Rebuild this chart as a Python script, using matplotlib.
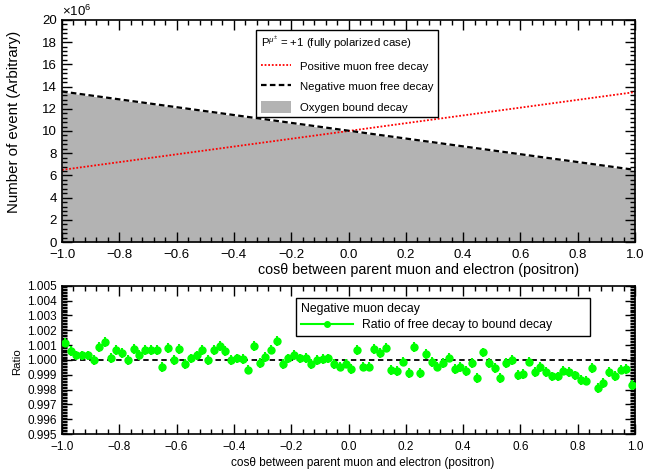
import numpy as np
import matplotlib
matplotlib.use("Agg")
import matplotlib.pyplot as plt
from matplotlib.lines import Line2D
from matplotlib.patches import Patch
from matplotlib.ticker import MultipleLocator, FuncFormatter

plt.rcParams['font.family'] = ['Liberation Sans', 'DejaVu Sans']
plt.rcParams['mathtext.fontset'] = 'custom'
plt.rcParams['mathtext.rm'] = 'Liberation Sans'
plt.rcParams['mathtext.it'] = 'Liberation Sans:italic'

# top panel: straight line spectra, values at cos(theta) = -1 and +1
line_x = [-1.0, 1.0]
pos_free = [6.5e6, 13.5e6]
neg_free = [13.55e6, 6.5e6]
bound = [13.5e6, 6.45e6]

# bottom panel: ratio of free to bound decay, 100 bins in [-1, 1]
n_bins = 100
ratio = [
    1.00117, 1.00060, 1.00030, 1.00030, 1.00030, 1.00000, 1.00085, 1.00120, 1.00015, 1.00065,
    1.00045, 1.00000, 1.00075, 1.00035, 1.00065, 1.00065, 1.00065, 0.99953, 1.00080, 1.00000,
    1.00072, 0.99970, 1.00010, 1.00030, 1.00065, 1.00000, 1.00065, 1.00095, 1.00060, 1.00000,
    1.00010, 1.00005, 0.99935, 1.00095, 0.99978, 1.00020, 1.00070, 1.00130, 0.99973, 1.00010,
    1.00035, 1.00010, 1.00013, 0.99973, 1.00000, 1.00005, 1.00010, 0.99970, 0.99955, 0.99975,
    0.99937, 1.00067, 0.99955, 0.99955, 1.00076, 1.00045, 1.00083, 0.99933, 0.99926, 0.99989,
    0.99910, 1.00085, 0.99910, 1.00040, 0.99987, 0.99955, 0.99980, 1.00016, 0.99937, 0.99950,
    0.99926, 0.99980, 0.99880, 1.00050, 0.99980, 0.99944, 0.99877, 0.99978, 1.00000, 0.99900,
    0.99904, 0.99989, 0.99920, 0.99953, 0.99920, 0.99888, 0.99888, 0.99928, 0.99917, 0.99895,
    0.99866, 0.99861, 0.99944, 0.99812, 0.99843, 0.99917, 0.99892, 0.99935, 0.99937, 0.99830,
]
ratio_err = 0.00033

edges = np.linspace(-1, 1, n_bins + 1)
centers = 0.5 * (edges[:-1] + edges[1:])

fig = plt.figure(figsize=(6.67, 4.72), dpi=100)
ax1 = fig.add_axes([0.093, 0.487, 0.859, 0.471])
ax2 = fig.add_axes([0.093, 0.0805, 0.859, 0.314])

gray = '#b3b3b3'
ax1.fill_between(line_x, bound, 0, color=gray, linewidth=0)
ax1.plot(line_x, pos_free, color='red', linestyle=(0, (1, 1)), linewidth=1.3)
ax1.plot(line_x, neg_free, color='black', linestyle=(0, (2.5, 1.5)), linewidth=1.6)

ax1.set_xlim(-1, 1)
ax1.set_ylim(0, 20e6)
ax1.xaxis.set_major_locator(MultipleLocator(0.2))
ax1.xaxis.set_minor_locator(MultipleLocator(0.04))
ax1.yaxis.set_major_locator(MultipleLocator(2e6))
ax1.yaxis.set_minor_locator(MultipleLocator(0.4e6))
ax1.yaxis.set_major_formatter(FuncFormatter(lambda v, p: f"{v/1e6:.0f}"))
ax1.xaxis.set_major_formatter(FuncFormatter(lambda v, p: f"{v:.1f}".replace('-', '\u2212')))
ax1.text(0.0, 1.005, r"$\times$10$^{6}$", transform=ax1.transAxes, fontsize=9.5,
         ha='left', va='bottom')
ax1.set_xlabel("cos\u03b8 between parent muon and electron (positron)", fontsize=10.3)
ax1.xaxis.set_label_coords(0.622, -0.095)
ax1.set_ylabel("Number of event (Arbitrary)", fontsize=10.8)
ax1.yaxis.set_label_coords(-0.072, 0.54)

handles1 = [
    Line2D([], [], color='red', linestyle=(0, (1, 1)), linewidth=1.3),
    Line2D([], [], color='black', linestyle=(0, (2.5, 1.5)), linewidth=1.6),
    Patch(facecolor=gray, edgecolor='none'),
]
labels1 = ["Positive muon free decay", "Negative muon free decay", "Oxygen bound decay"]
leg1 = ax1.legend(handles1, labels1, title=r"P$^{\mu^{\pm}}$ = +1 (fully polarized case)",
                  loc='upper left', bbox_to_anchor=(0.3386, 0.955), fontsize=8.2,
                  title_fontsize=8.2, frameon=True, fancybox=False, edgecolor='black',
                  framealpha=1, borderpad=0.4, labelspacing=0.78, handlelength=2.7,
                  handleheight=1.2, handletextpad=0.75, alignment='left', borderaxespad=0)
leg1.get_frame().set_linewidth(1.0)

ax2.errorbar(centers, ratio, yerr=ratio_err, fmt='o', color='#00ff00', markersize=5,
             elinewidth=1.5, capsize=0, zorder=3)
ax2.axhline(1.0, color='black', linestyle=(0, (3, 2)), linewidth=1.3, zorder=2)
ax2.set_xlim(-1, 1)
ax2.set_ylim(0.995, 1.005)
ax2.xaxis.set_major_locator(MultipleLocator(0.2))
ax2.xaxis.set_minor_locator(MultipleLocator(0.04))
ax2.yaxis.set_major_locator(MultipleLocator(0.001))
ax2.yaxis.set_minor_locator(MultipleLocator(0.0001))
ax2.yaxis.set_major_formatter(FuncFormatter(lambda v, p: f"{v:.3f}"))
ax2.xaxis.set_major_formatter(FuncFormatter(lambda v, p: f"{v:.1f}".replace('-', '\u2212')))
ax2.set_xlabel("cos\u03b8 between parent muon and electron (positron)", fontsize=8.5)
ax2.xaxis.set_label_coords(0.525, -0.155)
ax2.set_ylabel("Ratio", fontsize=8.2)
ax2.yaxis.set_label_coords(-0.07, 0.49)

handles2 = [Line2D([], [], color='#00ff00', marker='o', markersize=4, linewidth=1.5)]
leg2 = ax2.legend(handles2, ["Ratio of free decay to bound decay"], title="Negative muon decay",
                  loc='lower left', bbox_to_anchor=(0.409, 0.662, 0.513, 0.25), mode='expand',
                  fontsize=8.8, title_fontsize=8.8, frameon=True, fancybox=False,
                  edgecolor='black', framealpha=1, borderpad=0.4, labelspacing=0.3,
                  handlelength=4.2, handletextpad=0.8, alignment='left', borderaxespad=0)
leg2.get_frame().set_linewidth(1.0)

for ax, fs in ((ax1, 9.5), (ax2, 8.5)):
    ax.tick_params(which='both', direction='in', top=True, right=True, labelsize=fs, width=1)
    ax.tick_params(which='major', length=7)
    ax.tick_params(which='minor', length=3.5)
    ax.tick_params(axis='x', pad=5)
    for s in ax.spines.values():
        s.set_linewidth(1.2)

fig.savefig("out.png", dpi=100)
